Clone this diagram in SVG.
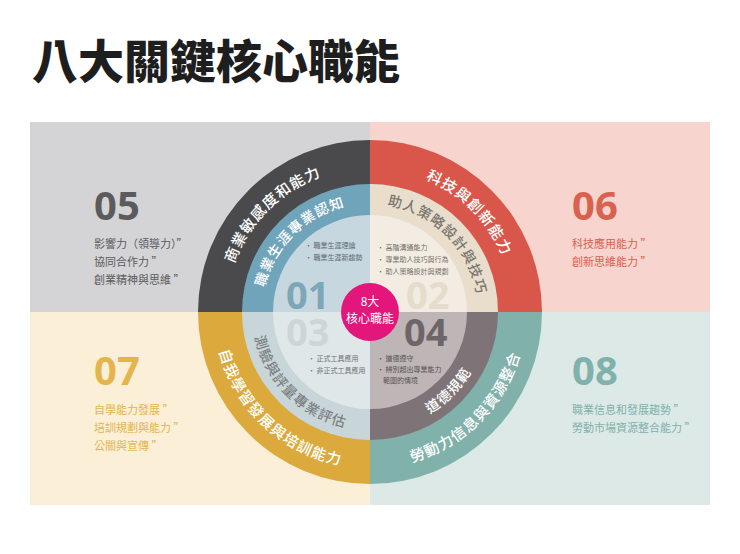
<svg xmlns="http://www.w3.org/2000/svg" xmlns:xlink="http://www.w3.org/1999/xlink" width="740" height="554" viewBox="0 0 740 554">
<style>
text{font-family:"Noto Sans CJK TC","Noto Sans",sans-serif}
.num{font-family:"Noto Sans","Noto Sans CJK TC",sans-serif;font-weight:700}
.ot{font-size:15px;fill:#fff;font-weight:500;letter-spacing:1px}
.mt{font-size:14px;font-weight:500;letter-spacing:1px}
.b{font-size:7px}
.s{font-size:11px}
</style>
<defs>
<path id="oTL" d="M226,312 A144,144 0 0 1 370,168"/>
<path id="oTR" d="M370,168 A144,144 0 0 1 514,312"/>
<path id="oBL" d="M214,312 A156,156 0 0 0 370,468"/>
<path id="oBR" d="M370,468 A156,156 0 0 0 526,312"/>
<path id="mTL" d="M262,312 A108,108 0 0 1 370,204"/>
<path id="mTR" d="M370,204 A108,108 0 0 1 478,312"/>
<path id="mBL" d="M252,312 A118,118 0 0 0 370,430"/>
<path id="mBR" d="M370,430 A118,118 0 0 0 488,312"/>
</defs>
<rect width="740" height="554" fill="#fff"/>
<text x="32" y="78" font-size="46" font-weight="900" fill="#1e1e1e">八大關鍵核心職能</text>
<g id="panels">
<rect x="30" y="122" width="340" height="190" fill="#d4d4d6"/>
<rect x="370" y="122" width="340" height="190" fill="#f8d4ce"/>
<rect x="30" y="312" width="340" height="193" fill="#fcefd7"/>
<rect x="370" y="312" width="340" height="193" fill="#dde9e7"/>
</g>
<g id="ring-outer">
<path d="M370,312 L198,312 A172,172 0 0 1 370,140 Z" fill="#4a4a4c"/>
<path d="M370,312 L370,140 A172,172 0 0 1 542,312 Z" fill="#d9574a"/>
<path d="M370,312 L370,484 A172,172 0 0 1 198,312 Z" fill="#dba93c"/>
<path d="M370,312 L542,312 A172,172 0 0 1 370,484 Z" fill="#80b1ab"/>
</g>
<g id="ring-mid">
<path d="M370,312 L242,312 A128,128 0 0 1 370,184 Z" fill="#6fa4bb"/>
<path d="M370,312 L370,184 A128,128 0 0 1 498,312 Z" fill="#e9ddcc"/>
<path d="M370,312 L370,440 A128,128 0 0 1 242,312 Z" fill="#c8d6d9"/>
<path d="M370,312 L498,312 A128,128 0 0 1 370,440 Z" fill="#7e7376"/>
</g>
<g id="ring-inner">
<path d="M370,312 L273,312 A97,97 0 0 1 370,215 Z" fill="#c6d7df"/>
<path d="M370,312 L370,215 A97,97 0 0 1 467,312 Z" fill="#f2ece2"/>
<path d="M370,312 L370,409 A97,97 0 0 1 273,312 Z" fill="#e0e7e9"/>
<path d="M370,312 L467,312 A97,97 0 0 1 370,409 Z" fill="#bdb5b6"/>
</g>
<g id="arc-labels">
<text class="ot"><textPath xlink:href="#oTL" href="#oTL" startOffset="50%" text-anchor="middle">商業敏感度和能力</textPath></text>
<text class="ot"><textPath xlink:href="#oTR" href="#oTR" startOffset="50%" text-anchor="middle">科技與創新能力</textPath></text>
<text class="ot"><textPath xlink:href="#oBL" href="#oBL" startOffset="52%" text-anchor="middle">自我學習發展與培訓能力</textPath></text>
<text class="ot"><textPath xlink:href="#oBR" href="#oBR" startOffset="50%" text-anchor="middle">勞動力信息與資源整合</textPath></text>
<text class="mt" fill="#fff"><textPath xlink:href="#mTL" href="#mTL" startOffset="50%" text-anchor="middle">職業生涯專業認知</textPath></text>
<text class="mt" fill="#7a7670"><textPath xlink:href="#mTR" href="#mTR" startOffset="50%" text-anchor="middle">助人策略設計與技巧</textPath></text>
<text class="mt" fill="#7d8184"><textPath xlink:href="#mBL" href="#mBL" startOffset="50%" text-anchor="middle">測驗與評量專業評估</textPath></text>
<text class="mt" fill="#fff"><textPath xlink:href="#mBR" href="#mBR" startOffset="50%" text-anchor="middle">道德規範</textPath></text>
</g>
<g id="inner-content">
<text class="num" x="286" y="309" font-size="38" fill="#7ea6b9">01</text>
<text class="num" x="406" y="309" font-size="38" fill="#e6dccb">02</text>
<text class="num" x="286" y="346" font-size="38" fill="#ccd6d9">03</text>
<text class="num" x="404" y="346" font-size="38" fill="#6e6568">04</text>
<g class="b" fill="#5e6a70">
<text x="305" y="248">• 職業生涯理論</text>
<text x="305" y="260">• 職業生涯新趨勢</text>
</g>
<g class="b" fill="#77716a">
<text x="377" y="250">• 高階溝通能力</text>
<text x="377" y="262">• 專業助人技巧與行為</text>
<text x="377" y="274">• 助人策略設計與規劃</text>
</g>
<g class="b" fill="#6c7275">
<text x="308" y="361">• 正式工具應用</text>
<text x="308" y="373">• 非正式工具應用</text>
</g>
<g class="b" fill="#5a5254">
<text x="377" y="361">• 道德遵守</text>
<text x="377" y="372">• 辨別超出專業能力</text>
<text x="383" y="383">範圍的情境</text>
</g>
</g>
<g id="center">
<circle cx="370" cy="312" r="29" fill="#e3167b"/>
<text x="370" y="306" font-size="12" fill="#fff" text-anchor="middle">8大</text>
<text x="370" y="323" font-size="12" fill="#fff" text-anchor="middle">核心職能</text>
</g>
<g id="node-05" fill="#5b5b5d">
<text class="num" x="94" y="220" font-size="40">05</text>
<text class="s" x="94" y="248">影響力（領導力）”</text>
<text class="s" x="94" y="266">協同合作力 ”</text>
<text class="s" x="94" y="284">創業精神與思維 ”</text>
</g>
<g id="node-06" fill="#d9614f">
<text class="num" x="572" y="220" font-size="40">06</text>
<text class="s" x="572" y="248">科技應用能力 ”</text>
<text class="s" x="572" y="266">創新思維能力 ”</text>
</g>
<g id="node-07" fill="#e5b54d">
<text class="num" x="94" y="385" font-size="40">07</text>
<text class="s" x="94" y="414">自學能力發展 ”</text>
<text class="s" x="94" y="432">培訓規劃與能力 ”</text>
<text class="s" x="94" y="450">公關與宣傳 ”</text>
</g>
<g id="node-08" fill="#80b1ab">
<text class="num" x="572" y="385" font-size="40">08</text>
<text class="s" x="572" y="414">職業信息和發展趨勢 ”</text>
<text class="s" x="572" y="432">勞動市場資源整合能力 ”</text>
</g>
</svg>
